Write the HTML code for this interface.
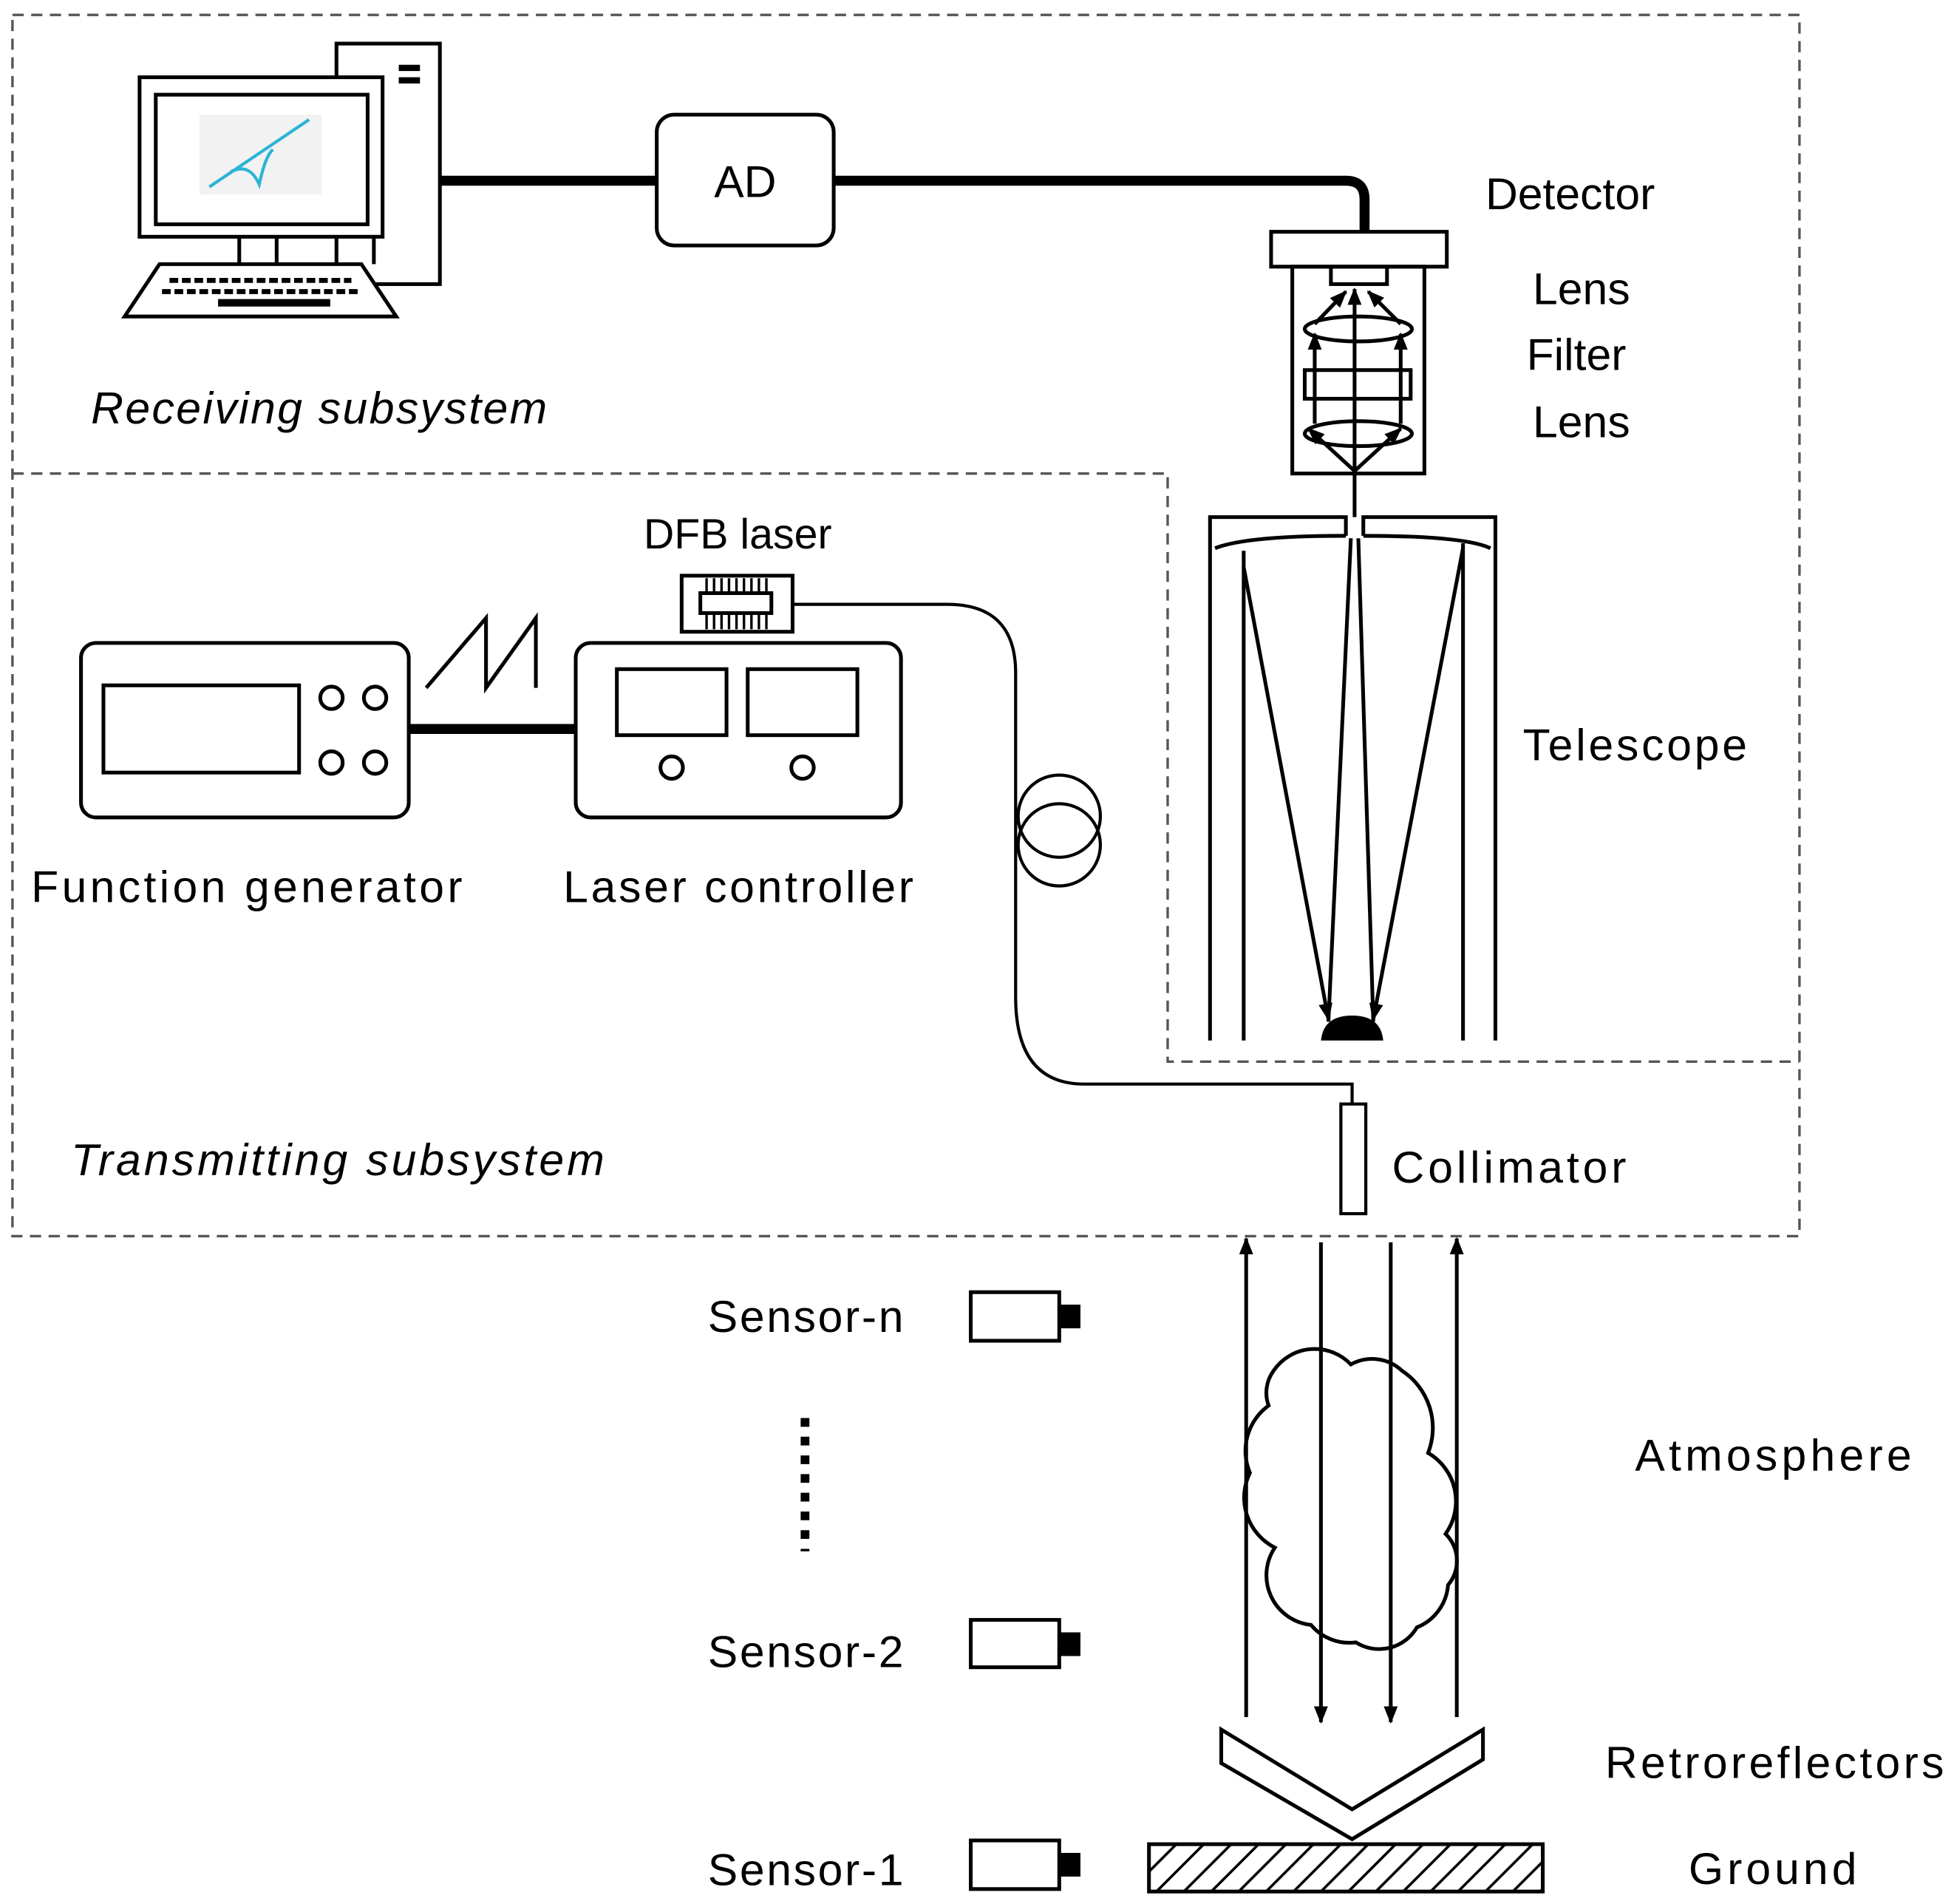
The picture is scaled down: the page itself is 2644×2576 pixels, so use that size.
<!DOCTYPE html>
<html><head><meta charset="utf-8"><style>
html,body{margin:0;padding:0;background:#fff;}
svg{display:block;}
text{font-family:"Liberation Sans",sans-serif;fill:#000;}
</style></head><body>
<svg width="2644" height="2576" viewBox="0 0 1568 1528" preserveAspectRatio="none" xmlns="http://www.w3.org/2000/svg">
<defs>
<marker id="ah" viewBox="0 0 10 10" refX="9" refY="5" markerWidth="6" markerHeight="6" orient="auto-start-reverse" markerUnits="userSpaceOnUse"><path d="M0,0 L10,5 L0,10 z" fill="#000"/></marker>
<marker id="ab" viewBox="0 0 10 10" refX="9" refY="5" markerWidth="14" markerHeight="14" orient="auto" markerUnits="userSpaceOnUse"><path d="M0,1 L10,5 L0,9 z" fill="#000"/></marker>
<pattern id="hatch" width="22" height="40" patternUnits="userSpaceOnUse" patternTransform="skewX(-45)"><line x1="4" y1="0" x2="4" y2="40" stroke="#000" stroke-width="3"/></pattern>
</defs>
<g fill="none" stroke="#555" stroke-width="2" stroke-dasharray="9,6">
<path d="M10,12 H1444 V992 H10 Z"/>
<path d="M10,380 H937 V852 H1444"/>
</g>
<!-- computer -->
<g fill="#fff" stroke="#000" stroke-width="3">
<rect x="270" y="35" width="83" height="193"/>
<rect x="112" y="62" width="195" height="128"/>
<rect x="125" y="76" width="170" height="104"/>
<path d="M192,190 V212 M222,190 V212 M300,190 V212"/>
<path d="M100,254 H318 L290,212 H128 Z"/>
</g>
<rect x="320" y="52" width="17" height="5" fill="#000"/><rect x="320" y="62" width="17" height="5" fill="#000"/>
<rect x="160" y="92" width="98" height="64" fill="#f2f2f2"/>
<path d="M168,150 L248,96 M185,138 Q200,130 208,148 Q213,125 219,120" stroke="#2bb4d6" stroke-width="2.5" fill="none"/>
<g stroke="#000" stroke-width="4" stroke-dasharray="7,3">
<line x1="136" y1="225" x2="282" y2="225"/><line x1="130" y1="234" x2="288" y2="234"/>
</g>
<rect x="175" y="240" width="90" height="6" fill="#000"/>
<!-- cables -->
<path d="M353,145 H527" stroke="#000" stroke-width="8"/>
<path d="M669,145 H1080 Q1095,145 1095,160 V187" stroke="#000" stroke-width="8" fill="none"/>
<rect x="527" y="92" width="142" height="105" rx="14" fill="#fff" stroke="#000" stroke-width="3"/>
<text x="598" y="158" font-size="36" text-anchor="middle">AD</text>
<!-- detector -->
<g stroke="#000" stroke-width="3" fill="none">
<rect x="1020" y="186" width="141" height="28" fill="#fff"/>
<rect x="1037" y="214" width="106" height="166"/>
<rect x="1068" y="214" width="45" height="14"/>
<ellipse cx="1090" cy="264" rx="43" ry="10"/>
<ellipse cx="1090" cy="348" rx="43" ry="10"/>
<rect x="1047" y="297" width="85" height="23"/>
<line x1="1087" y1="415" x2="1087" y2="232" marker-end="url(#ab)"/>
<line x1="1087" y1="378" x2="1050" y2="344" marker-end="url(#ab)"/>
<line x1="1087" y1="378" x2="1124" y2="344" marker-end="url(#ab)"/>
<line x1="1055" y1="340" x2="1055" y2="268" marker-end="url(#ab)"/>
<line x1="1124" y1="340" x2="1124" y2="268" marker-end="url(#ab)"/>
<line x1="1055" y1="260" x2="1080" y2="234" marker-end="url(#ab)"/>
<line x1="1124" y1="260" x2="1098" y2="234" marker-end="url(#ab)"/>
</g>
<!-- telescope -->
<g stroke="#000" stroke-width="3" fill="none">
<path d="M971,835 V415 H1080 V430 M1094,430 V415 H1200 V835"/>
<path d="M975,440 Q1000,430 1080,430 M1094,430 Q1175,430 1196,440"/>
<path d="M998,835 V442 M1174,835 V436"/>
<line x1="998" y1="455" x2="1066" y2="818" marker-end="url(#ab)"/>
<line x1="1174" y1="440" x2="1102" y2="818" marker-end="url(#ab)"/>
<line x1="1066" y1="820" x2="1084" y2="432"/>
<line x1="1102" y1="820" x2="1090" y2="432"/>
</g>
<path d="M1060,835 Q1062,815 1085,815 Q1108,815 1110,835 Z" fill="#000"/>
<!-- labels receiving -->
<text x="1192" y="168" font-size="36">Detector</text>
<text x="1230" y="244" font-size="36">Lens</text>
<text x="1225" y="297" font-size="36">Filter</text>
<text x="1230" y="351" font-size="36">Lens</text>
<text x="1222" y="610" font-size="36" textLength="180">Telescope</text>
<text x="73" y="340" font-size="36" font-style="italic" textLength="366">Receiving subsystem</text>
<!-- function generator -->
<path d="M328,585 H462" stroke="#000" stroke-width="8"/>
<g stroke="#000" stroke-width="3" fill="#fff">
<rect x="65" y="516" width="263" height="140" rx="12"/>
<rect x="83" y="550" width="157" height="70"/>
<circle cx="266" cy="560" r="9"/><circle cx="301" cy="560" r="9"/>
<circle cx="266" cy="612" r="9"/><circle cx="301" cy="612" r="9"/>
<rect x="462" y="516" width="261" height="140" rx="12"/>
<rect x="495" y="537" width="88" height="53"/>
<rect x="600" y="537" width="88" height="53"/>
<circle cx="539" cy="616" r="9"/><circle cx="644" cy="616" r="9"/>
</g>
<path d="M342,552 L390,496 V552 L430,496 V552" stroke="#000" stroke-width="3" fill="none"/>
<!-- fiber -->
<path d="M636,485 H760 Q815,485 815,540 V800 Q815,870 870,870 H1085 V886" stroke="#000" stroke-width="2.5" fill="none"/>
<circle cx="850" cy="655" r="33" stroke="#000" stroke-width="2.5" fill="none"/>
<circle cx="850" cy="678" r="33" stroke="#000" stroke-width="2.5" fill="none"/>
<!-- DFB -->
<g stroke="#000" stroke-width="3" fill="#fff">
<rect x="547" y="462" width="89" height="45"/>
<rect x="562" y="476" width="57" height="16"/>
</g>
<g stroke="#000" stroke-width="2">
<path d="M567,464V476 M573,464V476 M579,464V476 M585,464V476 M591,464V476 M597,464V476 M603,464V476 M609,464V476 M615,464V476 M567,492V505 M573,492V505 M579,492V505 M585,492V505 M591,492V505 M597,492V505 M603,492V505 M609,492V505 M615,492V505"/>
</g>
<text x="592" y="440" font-size="34" text-anchor="middle">DFB laser</text>
<text x="25" y="724" font-size="36" textLength="346">Function generator</text>
<text x="452" y="724" font-size="36" textLength="281">Laser controller</text>
<text x="57" y="943" font-size="36" font-style="italic" textLength="428">Transmitting subsystem</text>
<rect x="1076" y="886" width="20" height="88" fill="#fff" stroke="#000" stroke-width="2.5"/>
<text x="1117" y="949" font-size="36" textLength="188">Collimator</text>
<!-- beams -->
<g stroke="#000" stroke-width="3" fill="none">
<line x1="1000" y1="1378" x2="1000" y2="994" marker-end="url(#ab)"/>
<line x1="1169" y1="1378" x2="1169" y2="994" marker-end="url(#ab)"/>
<line x1="1060" y1="997" x2="1060" y2="1382" marker-end="url(#ab)"/>
<line x1="1116" y1="997" x2="1116" y2="1382" marker-end="url(#ab)"/>
<path d="M1003,1182 A45,45 0 0 1 1018,1128 A30,30 0 0 1 1022,1100 A40,40 0 0 1 1084,1095 A35,35 0 0 1 1125,1100 A55,55 0 0 1 1146,1166 A45,45 0 0 1 1160,1231 A30,30 0 0 1 1162,1272 A40,40 0 0 1 1137,1306 A35,35 0 0 1 1088,1318 A40,40 0 0 1 1052,1304 A40,40 0 0 1 1023,1242 A45,45 0 0 1 1003,1182 Z"/>
<path d="M980,1388 L1085,1452 L1190,1388 V1412 L1085,1476 L980,1415 Z" fill="#fff"/>
<rect x="922" y="1480" width="316" height="38" fill="url(#hatch)"/>
</g>
<text x="1312" y="1180" font-size="36" textLength="222">Atmosphere</text>
<text x="1288" y="1427" font-size="36" textLength="272">Retroreflectors</text>
<text x="1355" y="1512" font-size="36" textLength="135">Ground</text>
<!-- sensors -->
<g stroke="#000" stroke-width="3" fill="#fff">
<rect x="779" y="1037" width="71" height="39"/>
<rect x="779" y="1300" width="71" height="38"/>
<rect x="779" y="1477" width="71" height="39"/>
</g>
<rect x="850" y="1047" width="17" height="19" fill="#000"/>
<rect x="850" y="1310" width="17" height="19" fill="#000"/>
<rect x="850" y="1487" width="17" height="19" fill="#000"/>
<line x1="646" y1="1138" x2="646" y2="1245" stroke="#000" stroke-width="7" stroke-dasharray="7,8"/>
<text x="568" y="1069" font-size="36" textLength="157">Sensor-n</text>
<text x="568" y="1338" font-size="36" textLength="157">Sensor-2</text>
<text x="568" y="1513" font-size="36" textLength="157">Sensor-1</text>
</svg>
</body></html>
